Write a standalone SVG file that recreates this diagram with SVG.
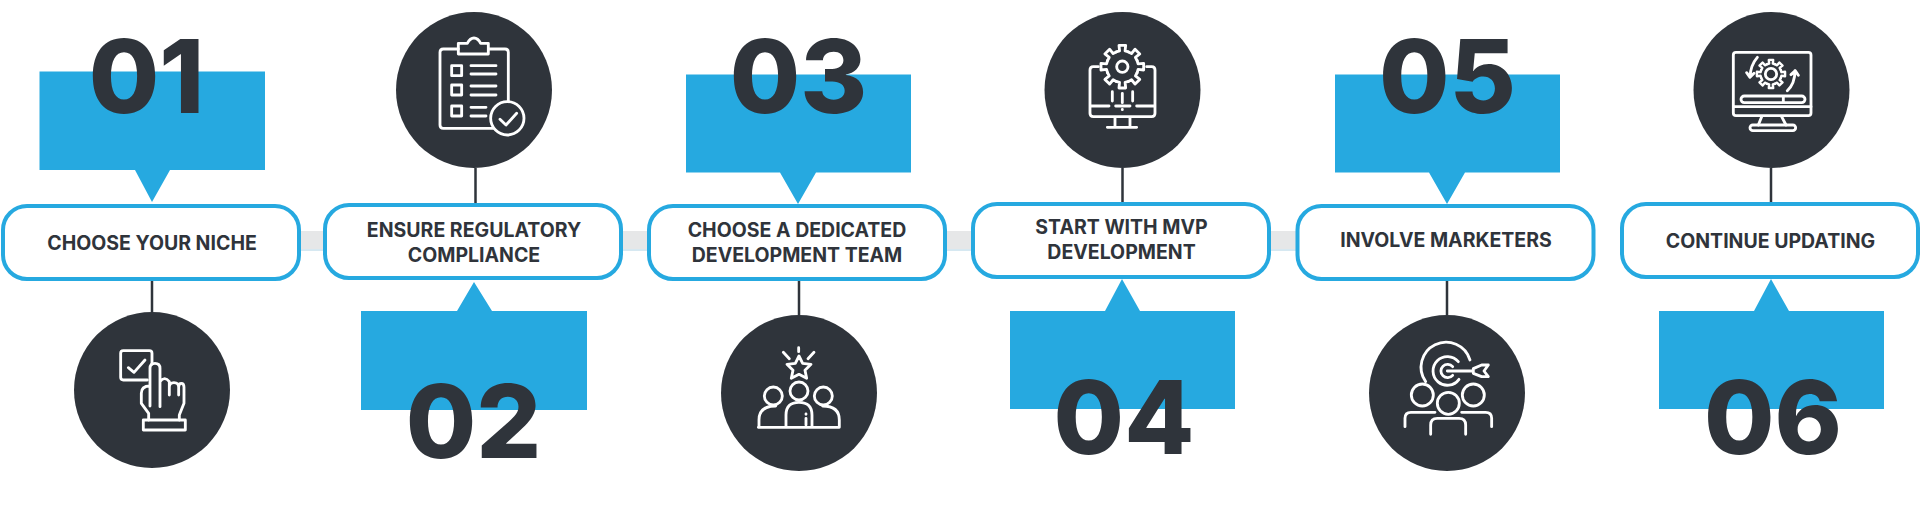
<svg xmlns="http://www.w3.org/2000/svg" xmlns:xlink="http://www.w3.org/1999/xlink" width="1920" height="525" viewBox="0 0 1920 525">
<style>
.box{fill:#fff;stroke:#26a9e0;stroke-width:4}
.call{fill:#26a9e0}
.disc{fill:#2f343b}
.num{font-family:Inter,"Liberation Sans",sans-serif;font-weight:800;font-size:102px;fill:#2f343b;text-anchor:middle}
.lab{font-family:Inter,"Liberation Sans",sans-serif;font-weight:700;font-size:19.500px;fill:#2f343b;text-anchor:middle}
.ic{fill:none;stroke:#fff;stroke-width:8.500;stroke-linecap:round;stroke-linejoin:round}
.con{stroke:#2f343b;stroke-width:2.500;fill:none}
</style>
<defs>
<g id="gear">
<path id="t" d="M-18.400-44.300L-8.300-47.300L-10-64H10L8.300-47.300L18.400-44.300"/>
<use xlink:href="#t" href="#t" transform="rotate(45)"/>
<use xlink:href="#t" href="#t" transform="rotate(90)"/>
<use xlink:href="#t" href="#t" transform="rotate(135)"/>
<use xlink:href="#t" href="#t" transform="rotate(180)"/>
<use xlink:href="#t" href="#t" transform="rotate(225)"/>
<use xlink:href="#t" href="#t" transform="rotate(270)"/>
<use xlink:href="#t" href="#t" transform="rotate(315)"/>
</g>
</defs>
<rect width="1920" height="525" fill="#fff"/>
<g id="connectors">
<rect x="300" y="231" width="997" height="18" fill="#e6e7e8"/>
<rect x="300" y="249" width="997" height="2" fill="#d6e8f1"/>
<path class="con" d="M152 281V312M475.500 168V203M799 281V315M1122.500 168V203M1447 281V315M1771 168V203"/>
</g>
<g id="step1">
<path class="call" d="M39.500 71.500H265V170H170L152 202L135 170H39.500Z"/>
<rect class="box" x="3" y="206" width="296" height="73" rx="24"/>
<text class="lab" x="152" y="250">CHOOSE YOUR NICHE</text>
<text class="num" x="146.500" y="112.500">01</text>
<circle class="disc" cx="152" cy="390" r="78"/>
<g class="ic" transform="translate(60 300) scale(.3333)">
<path d="M262 240H190q-8 0-8-8V160q0-8 8-8H268q8 0 8 8V192M205 203L222 217L255 180"/>
<path d="M270 318V205q0-15 15-15t15 15V320M300 245q14-18 28 0V285M328 262q0-14 14-14t14 14V285M356 262q0-12 8-12t8 12V310L358 345V360M270 258q-26 0-26 22V310L266 340V360"/>
<rect x="250" y="360" width="126" height="30"/>
</g>
</g>
<g id="step2">
<path class="call" d="M361 311H457L474 282L492 311H587V410H361Z"/>
<rect class="box" x="325" y="205" width="296" height="73" rx="24"/>
<text class="lab" x="474" y="237">ENSURE REGULATORY</text>
<text class="lab" x="474" y="262">COMPLIANCE</text>
<text class="num" x="473.500" y="458">02</text>
<circle class="disc" cx="474" cy="90" r="78"/>
<g class="ic" transform="translate(390 0) scale(.3333)">
<path d="M205 147H160q-10 0-10 10V375q0 10 10 10H310M295 147H345q10 0 10 10V305"/>
<path d="M205 162V130H232q8-16 20-16t20 16H295V162Z"/>
<rect x="185" y="197" width="30" height="30"/><rect x="185" y="255" width="30" height="30"/><rect x="185" y="318" width="30" height="30"/>
<path d="M243 197H318M243 222H318M243 258H318M243 285H318M243 322H288M243 348H288"/>
<circle cx="352" cy="355" r="50"/>
<path d="M330 358L348 375L380 340"/>
</g>
</g>
<g id="step3">
<path class="call" d="M686 74.500H911V172.500H816L798 204L780 172.500H686Z"/>
<rect class="box" x="649" y="206" width="296" height="73" rx="24"/>
<text class="lab" x="797" y="237">CHOOSE A DEDICATED</text>
<text class="lab" x="797" y="262">DEVELOPMENT TEAM</text>
<text class="num" x="798.500" y="112.500">03</text>
<circle class="disc" cx="799" cy="393" r="78"/>
<g class="ic" transform="translate(710 310) scale(.3333)">
<path d="M266 113V125M220 127L238 146M312 127L294 146"/>
<path d="M267 138L278 160L303 163L285 181L290 205L267 193L244 205L249 181L231 163L256 160Z"/>
<circle cx="190" cy="258" r="27"/><circle cx="267" cy="243" r="27"/><circle cx="340" cy="258" r="27"/>
<path d="M145 352H388M147 352V330q0-42 50-42M228 352V315q0-38 39-38t39 38V352M388 352V330q0-42-50-42M288 325V345M288 312V313"/>
</g>
</g>
<g id="step4">
<path class="call" d="M1010 311H1105L1122 279L1140 311H1235V409H1010Z"/>
<rect class="box" x="973" y="204" width="296" height="73" rx="24"/>
<text class="lab" x="1121.500" y="234">START WITH MVP</text>
<text class="lab" x="1121.500" y="259">DEVELOPMENT</text>
<text class="num" x="1124" y="453.500">04</text>
<circle class="disc" cx="1122.500" cy="90" r="78"/>
<g class="ic" transform="translate(1035 0) scale(.3333)">
<use xlink:href="#gear" href="#gear" transform="translate(262 200)"/>
<circle cx="262" cy="200" r="17"/>
<path d="M190 200H175q-10 0-10 10V340q0 10 10 10H350q10 0 10-10V210q0-10-10-10H335M165 318H222M242 318H285M305 318H360M232 275V303M262 280V308M293 275V303M262 328V329M240 350V380M285 350V380M217 382H305"/>
</g>
</g>
<g id="step5">
<path class="call" d="M1335 74.500H1560V172.500H1465L1447 204L1429 172.500H1335Z"/>
<rect class="box" x="1297.500" y="206" width="296" height="73" rx="24"/>
<text class="lab" x="1446" y="247">INVOLVE MARKETERS</text>
<text class="num" x="1447.500" y="112.500">05</text>
<circle class="disc" cx="1447" cy="393" r="78"/>
<g class="ic" transform="translate(1360 310) scale(.3333)">
<path d="M197 215A75 75 0 1 1 330 150M297 208A43 43 0 1 1 295 155M278 170A20 20 0 1 0 278 196M262 183H340M340 176L365 165H385L372 183L385 200H365L340 190Z"/>
<circle cx="187" cy="255" r="33"/><circle cx="340" cy="255" r="33"/><circle cx="265" cy="280" r="33"/>
<path d="M135 350V325q0-18 18-18H225M395 350V325q0-18-18-18H305M212 373V345q0-20 20-20H297q20 0 20 20V373"/>
</g>
</g>
<g id="step6">
<path class="call" d="M1659 311H1754L1771 279L1789 311H1884V409H1659Z"/>
<rect class="box" x="1622" y="204" width="296" height="73" rx="24"/>
<text class="lab" x="1770.500" y="248">CONTINUE UPDATING</text>
<text class="num" x="1773" y="453.500">06</text>
<circle class="disc" cx="1771.500" cy="90" r="78"/>
<g class="ic" transform="translate(1680 0) scale(.3333)">
<rect x="160" y="157" width="233" height="190" rx="8"/>
<path d="M160 320H393M245 350L235 375M305 350L318 375M310 290V306"/>
<rect x="183" y="288" width="192" height="20" rx="10"/>
<rect x="210" y="375" width="137" height="17" rx="8.500"/>
<use xlink:href="#gear" href="#gear" transform="translate(273 222) scale(.66)" style="stroke-width:11"/>
<circle cx="273" cy="222" r="17"/>
<path d="M232 172Q212 195 210 230M200 218L210 232L222 220M322 272Q345 250 345 212M333 224L346 212L355 226"/>
</g>
</g>
</svg>
